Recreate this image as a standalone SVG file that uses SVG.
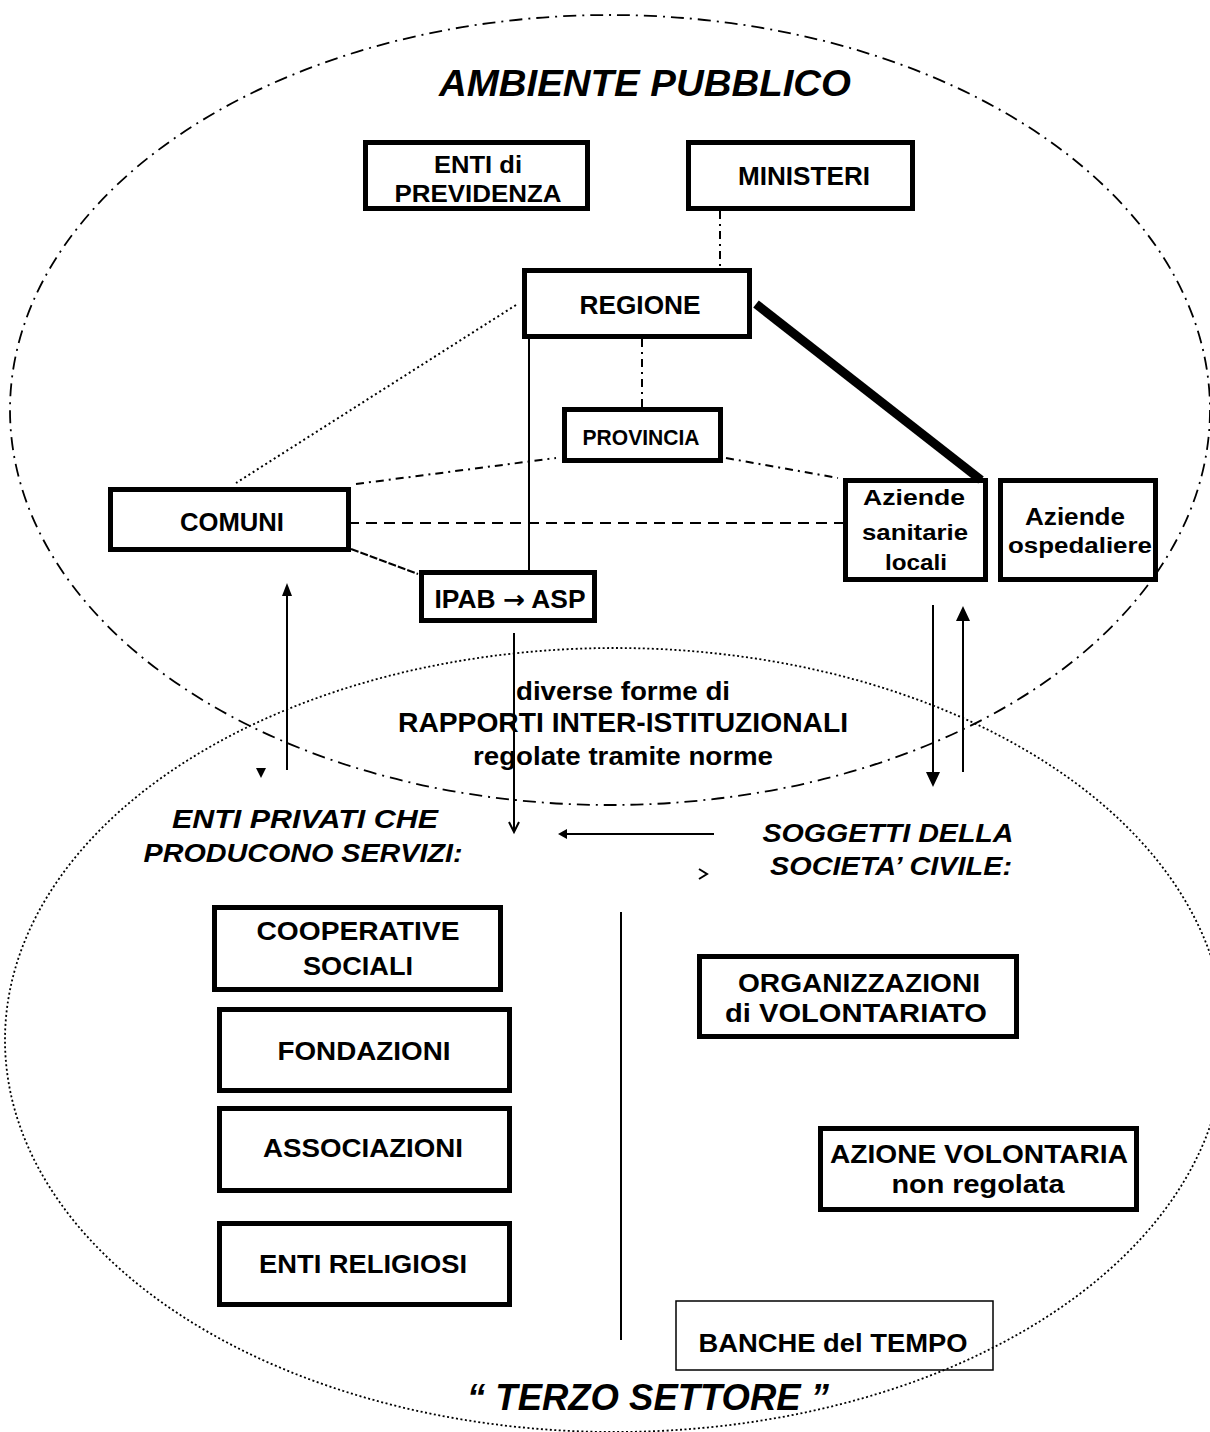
<svg xmlns="http://www.w3.org/2000/svg" width="1210" height="1432" viewBox="0 0 1210 1432">
<style>
text{font-family:"Liberation Sans",Arial,sans-serif;font-weight:bold;fill:#000;text-anchor:middle}
.it{font-style:italic}
.box{fill:none;stroke:#000;stroke-width:5}
.thin{fill:none;stroke:#000;stroke-width:1.5}
.ln{fill:none;stroke:#000;stroke-width:2}
.dd{fill:none;stroke:#000;stroke-width:2;stroke-dasharray:8 5 2 5}
.dt{fill:none;stroke:#000;stroke-width:2;stroke-dasharray:2 3}
.ds{fill:none;stroke:#000;stroke-width:2;stroke-dasharray:11 7}
.hd{fill:#000;stroke:none}
</style>
<rect width="1210" height="1432" fill="#fff"/>
<g id="areas">
<ellipse cx="610" cy="410" rx="600" ry="395" fill="none" stroke="#000" stroke-width="1.8" stroke-dasharray="13 6 2 6"/>
<ellipse cx="615" cy="1040" rx="610" ry="392" fill="none" stroke="#000" stroke-width="1.8" stroke-dasharray="2 2.5"/>
<text class="it" x="645" y="96" font-size="36" textLength="412" lengthAdjust="spacingAndGlyphs">AMBIENTE  PUBBLICO</text>
<text class="it" x="648" y="1410" font-size="36" textLength="362" lengthAdjust="spacingAndGlyphs">“ TERZO  SETTORE ”</text>
<text class="it" x="305" y="828" font-size="26" textLength="266" lengthAdjust="spacingAndGlyphs">ENTI  PRIVATI  CHE</text>
<text class="it" x="303" y="862" font-size="26" textLength="319" lengthAdjust="spacingAndGlyphs">PRODUCONO  SERVIZI:</text>
<text class="it" x="888" y="842" font-size="26" textLength="251" lengthAdjust="spacingAndGlyphs">SOGGETTI DELLA</text>
<text class="it" x="891" y="875" font-size="26" textLength="242" lengthAdjust="spacingAndGlyphs">SOCIETA’ CIVILE:</text>
<text x="623" y="700" font-size="26" textLength="214" lengthAdjust="spacingAndGlyphs">diverse forme di</text>
<text x="623" y="732" font-size="28" textLength="450" lengthAdjust="spacingAndGlyphs">RAPPORTI INTER-ISTITUZIONALI</text>
<text x="623" y="765" font-size="26" textLength="300" lengthAdjust="spacingAndGlyphs">regolate tramite norme</text>
</g>
<g id="connectors">
<line class="dd" x1="720" y1="211" x2="720" y2="268"/>
<line class="dd" x1="642" y1="339" x2="642" y2="407"/>
<line class="ln" x1="529" y1="339" x2="529" y2="570"/>
<line class="dt" x1="516" y1="305" x2="236" y2="483"/>
<line class="dd" x1="356" y1="484" x2="556" y2="458"/>
<line class="dd" x1="726" y1="458" x2="838" y2="478"/>
<line class="ds" x1="348" y1="523" x2="843" y2="523"/>
<line class="ln" stroke-dasharray="8 2" x1="351" y1="549" x2="418" y2="574"/>
<line stroke="#000" stroke-width="9" x1="756" y1="304" x2="981" y2="480"/>
<line class="ln" x1="287" y1="770" x2="287" y2="594"/>
<polygon class="hd" points="282,596 292,596 287,583"/>
<polygon class="hd" points="256,768 266,768 261,778"/>
<line class="ln" x1="514" y1="633" x2="514" y2="831"/>
<polyline class="ln" points="509,822 514,832 519,822"/>
<line class="ln" stroke-width="3" x1="714" y1="834" x2="565" y2="834"/>
<polygon class="hd" points="567,829 567,839 558,834"/>
<polyline class="ln" points="699,869 707,874 699,879"/>
<line class="ln" x1="933" y1="605" x2="933" y2="774"/>
<polygon class="hd" points="926,772 940,772 933,787"/>
<line class="ln" x1="963" y1="619" x2="963" y2="772"/>
<polygon class="hd" points="956,621 970,621 963,606"/>
<line class="ln" x1="621" y1="912" x2="621" y2="1340"/>
</g>
<g id="enti-previdenza"><rect class="box" x="365.5" y="142.5" width="222" height="66"/>
<text x="478" y="173" font-size="24" textLength="88" lengthAdjust="spacingAndGlyphs">ENTI di</text>
<text x="478" y="202" font-size="24" textLength="167" lengthAdjust="spacingAndGlyphs">PREVIDENZA</text></g>
<g id="ministeri"><rect class="box" x="688.5" y="142.5" width="224" height="66"/>
<text x="804" y="185" font-size="25" textLength="132" lengthAdjust="spacingAndGlyphs">MINISTERI</text></g>
<g id="regione"><rect class="box" x="524.5" y="270.5" width="225" height="66"/>
<text x="640" y="314" font-size="25" textLength="121" lengthAdjust="spacingAndGlyphs">REGIONE</text></g>
<g id="provincia"><rect class="box" x="564.5" y="409.5" width="156" height="51"/>
<text x="641" y="445" font-size="22" textLength="117" lengthAdjust="spacingAndGlyphs">PROVINCIA</text></g>
<g id="comuni"><rect class="box" x="110.5" y="489.5" width="238" height="60"/>
<text x="232" y="531" font-size="26" textLength="104" lengthAdjust="spacingAndGlyphs">COMUNI</text></g>
<g id="ipab"><rect class="box" x="421.5" y="572.5" width="173" height="48"/>
<text x="510" y="608" font-size="25" textLength="151" lengthAdjust="spacingAndGlyphs">IPAB <tspan font-family="DejaVu Sans, sans-serif">→</tspan> ASP</text></g>
<g id="asl"><rect class="box" x="845.5" y="480.5" width="140" height="99"/>
<text x="914" y="505" font-size="22" textLength="102" lengthAdjust="spacingAndGlyphs">Aziende</text>
<text x="915" y="540" font-size="22" textLength="106" lengthAdjust="spacingAndGlyphs">sanitarie</text>
<text x="916" y="570" font-size="22" textLength="62" lengthAdjust="spacingAndGlyphs">locali</text></g>
<g id="ao"><rect class="box" x="1000.5" y="480.5" width="155" height="99"/>
<text x="1075" y="525" font-size="24" textLength="100" lengthAdjust="spacingAndGlyphs">Aziende</text>
<text x="1080" y="553" font-size="22" textLength="144" lengthAdjust="spacingAndGlyphs">ospedaliere</text></g>
<g id="cooperative"><rect class="box" x="214.5" y="907.5" width="286" height="82"/>
<text x="358" y="940" font-size="25" textLength="203" lengthAdjust="spacingAndGlyphs">COOPERATIVE</text>
<text x="358" y="975" font-size="25" textLength="110" lengthAdjust="spacingAndGlyphs">SOCIALI</text></g>
<g id="fondazioni"><rect class="box" x="219.5" y="1009.5" width="290" height="81"/>
<text x="364" y="1060" font-size="25" textLength="173" lengthAdjust="spacingAndGlyphs">FONDAZIONI</text></g>
<g id="associazioni"><rect class="box" x="219.5" y="1108.5" width="290" height="82"/>
<text x="363" y="1157" font-size="25" textLength="200" lengthAdjust="spacingAndGlyphs">ASSOCIAZIONI</text></g>
<g id="enti-religiosi"><rect class="box" x="219.5" y="1223.5" width="290" height="81"/>
<text x="363" y="1273" font-size="25" textLength="208" lengthAdjust="spacingAndGlyphs">ENTI RELIGIOSI</text></g>
<g id="organizzazioni"><rect class="box" x="699.5" y="956.5" width="317" height="80"/>
<text x="859" y="992" font-size="25" textLength="242" lengthAdjust="spacingAndGlyphs">ORGANIZZAZIONI</text>
<text x="856" y="1022" font-size="25" textLength="262" lengthAdjust="spacingAndGlyphs">di  VOLONTARIATO</text></g>
<g id="azione-volontaria"><rect class="box" x="820.5" y="1128.5" width="316" height="81"/>
<text x="979" y="1163" font-size="25" textLength="298" lengthAdjust="spacingAndGlyphs">AZIONE VOLONTARIA</text>
<text x="978" y="1193" font-size="25" textLength="173" lengthAdjust="spacingAndGlyphs">non regolata</text></g>
<g id="banche-tempo"><rect class="thin" x="676" y="1301" width="317" height="69"/>
<text x="833" y="1352" font-size="26" textLength="269" lengthAdjust="spacingAndGlyphs">BANCHE  del TEMPO</text></g>
</svg>
